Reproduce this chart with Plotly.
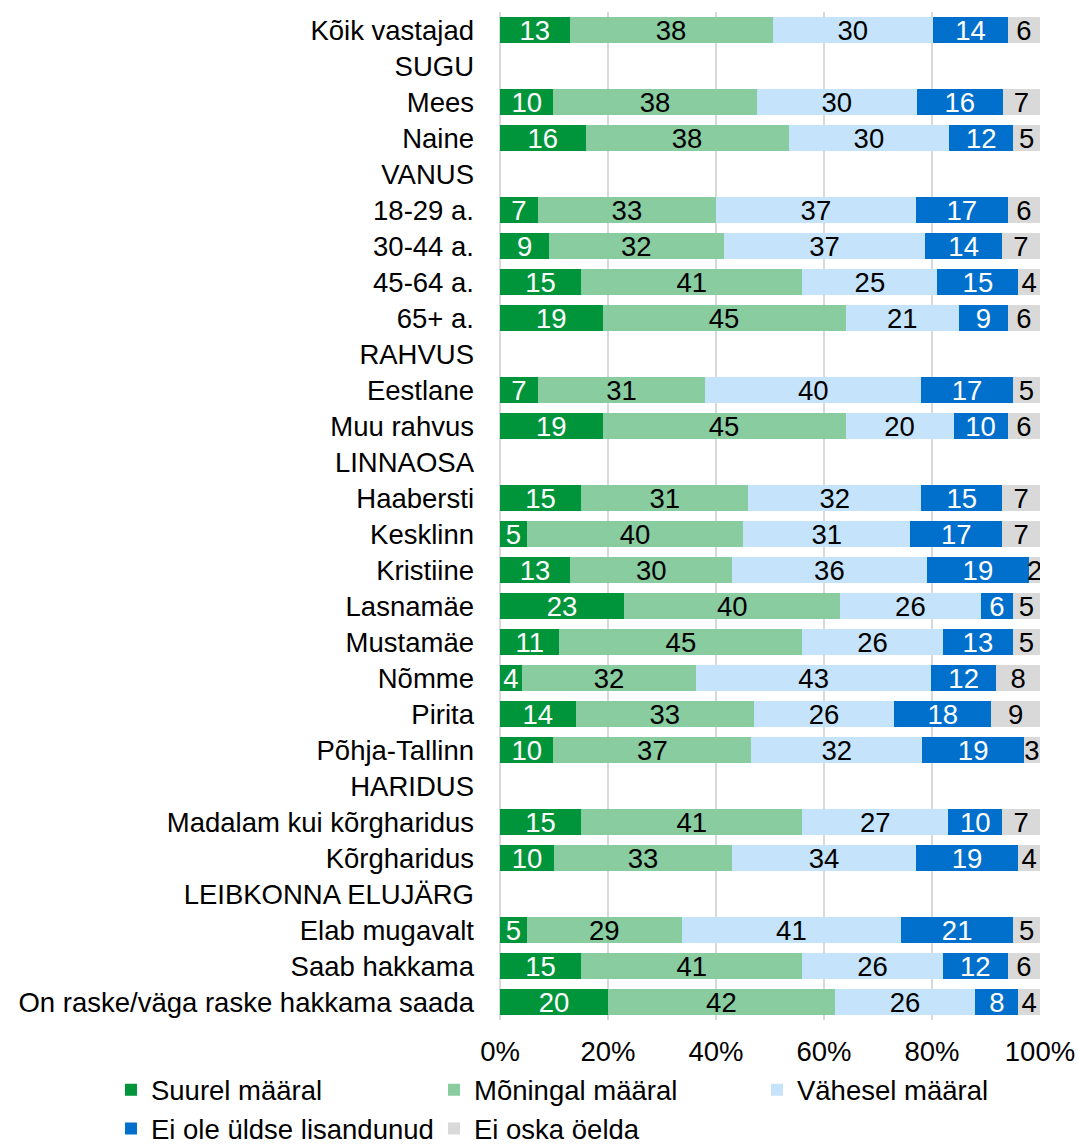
import plotly.graph_objects as go

categories = [
    "Kõik vastajad", "SUGU", "Mees", "Naine", "VANUS", "18-29 a.", "30-44 a.",
    "45-64 a.", "65+ a.", "RAHVUS", "Eestlane", "Muu rahvus", "LINNAOSA",
    "Haabersti", "Kesklinn", "Kristiine", "Lasnamäe", "Mustamäe", "Nõmme",
    "Pirita", "Põhja-Tallinn", "HARIDUS", "Madalam kui kõrgharidus",
    "Kõrgharidus", "LEIBKONNA ELUJÄRG", "Elab mugavalt", "Saab hakkama",
    "On raske/väga raske hakkama saada",
]

suurel = [13, None, 10, 16, None, 7, 9, 15, 19, None, 7, 19, None, 15, 5, 13, 23, 11, 4, 14, 10, None, 15, 10, None, 5, 15, 20]
moningal = [38, None, 38, 38, None, 33, 32, 41, 45, None, 31, 45, None, 31, 40, 30, 40, 45, 32, 33, 37, None, 41, 33, None, 29, 41, 42]
vahesel = [30, None, 30, 30, None, 37, 37, 25, 21, None, 40, 20, None, 32, 31, 36, 26, 26, 43, 26, 32, None, 27, 34, None, 41, 26, 26]
ei_ole = [14, None, 16, 12, None, 17, 14, 15, 9, None, 17, 10, None, 15, 17, 19, 6, 13, 12, 18, 19, None, 10, 19, None, 21, 12, 8]
ei_oska = [6, None, 7, 5, None, 6, 7, 4, 6, None, 5, 6, None, 7, 7, 2, 5, 5, 8, 9, 3, None, 7, 4, None, 5, 6, 4]

series_names = ["Suurel määral", "Mõningal määral", "Vähesel määral",
                "Ei ole üldse lisandunud", "Ei oska öelda"]
series_values = [suurel, moningal, vahesel, ei_ole, ei_oska]
series_colors = ["#00953B", "#88CCA0", "#C5E4FB", "#0070CC", "#D9D9D9"]
text_colors = ["white", "black", "black", "white", "black"]

FONT = "Liberation Sans, Arial, sans-serif"
FS = 27.5

fig = go.Figure()
for name, vals, col, tcol in zip(series_names, series_values, series_colors, text_colors):
    fig.add_trace(go.Bar(
        y=categories,
        x=vals,
        orientation="h",
        name=name,
        marker=dict(color=col, line=dict(width=0)),
        text=["" if v is None else str(v) for v in vals],
        texttemplate="%{text}",
        textposition="inside",
        textangle=0,
        insidetextanchor="middle",
        constraintext="none",
        textfont=dict(color=tcol, size=FS, family=FONT),
        hoverinfo="skip",
    ))

fig.update_layout(
    barmode="stack",
    barnorm="percent",
    bargap=0.28,
    width=1079,
    height=1145,
    margin=dict(l=500, r=39, t=12, b=125, autoexpand=False),
    paper_bgcolor="white",
    plot_bgcolor="white",
    font=dict(family=FONT, size=FS, color="black"),
    xaxis=dict(
        range=[0, 100],
        dtick=20,
        ticksuffix="%",
        showgrid=True,
        gridcolor="#D9D9D9",
        gridwidth=2,
        zeroline=True,
        zerolinecolor="#D9D9D9",
        zerolinewidth=2,
        showline=False,
        ticks="",
        ticklabelstandoff=12,
        tickfont=dict(size=FS, family=FONT, color="black"),
        fixedrange=True,
        automargin=False,
    ),
    yaxis=dict(
        categoryorder="array",
        categoryarray=categories,
        range=[len(categories) - 0.5, -0.5],
        showgrid=False,
        zeroline=False,
        showline=False,
        ticks="",
        ticklabelstandoff=25,
        tickfont=dict(size=FS, family=FONT, color="black"),
        fixedrange=True,
        automargin=False,
    ),
    legend=dict(
        orientation="h",
        x=-0.7204,
        xanchor="left",
        y=-0.045,
        yanchor="top",
        entrywidth=278,
        entrywidthmode="pixels",
        traceorder="normal",
        font=dict(size=FS, family=FONT, color="black"),
        itemwidth=30,
        tracegroupgap=0,
    ),
    showlegend=True,
)

fig.write_html(
    "out.html",
    config={"displayModeBar": False},
    post_script="document.body.style.margin='0';document.body.style.overflow='hidden';",
)
